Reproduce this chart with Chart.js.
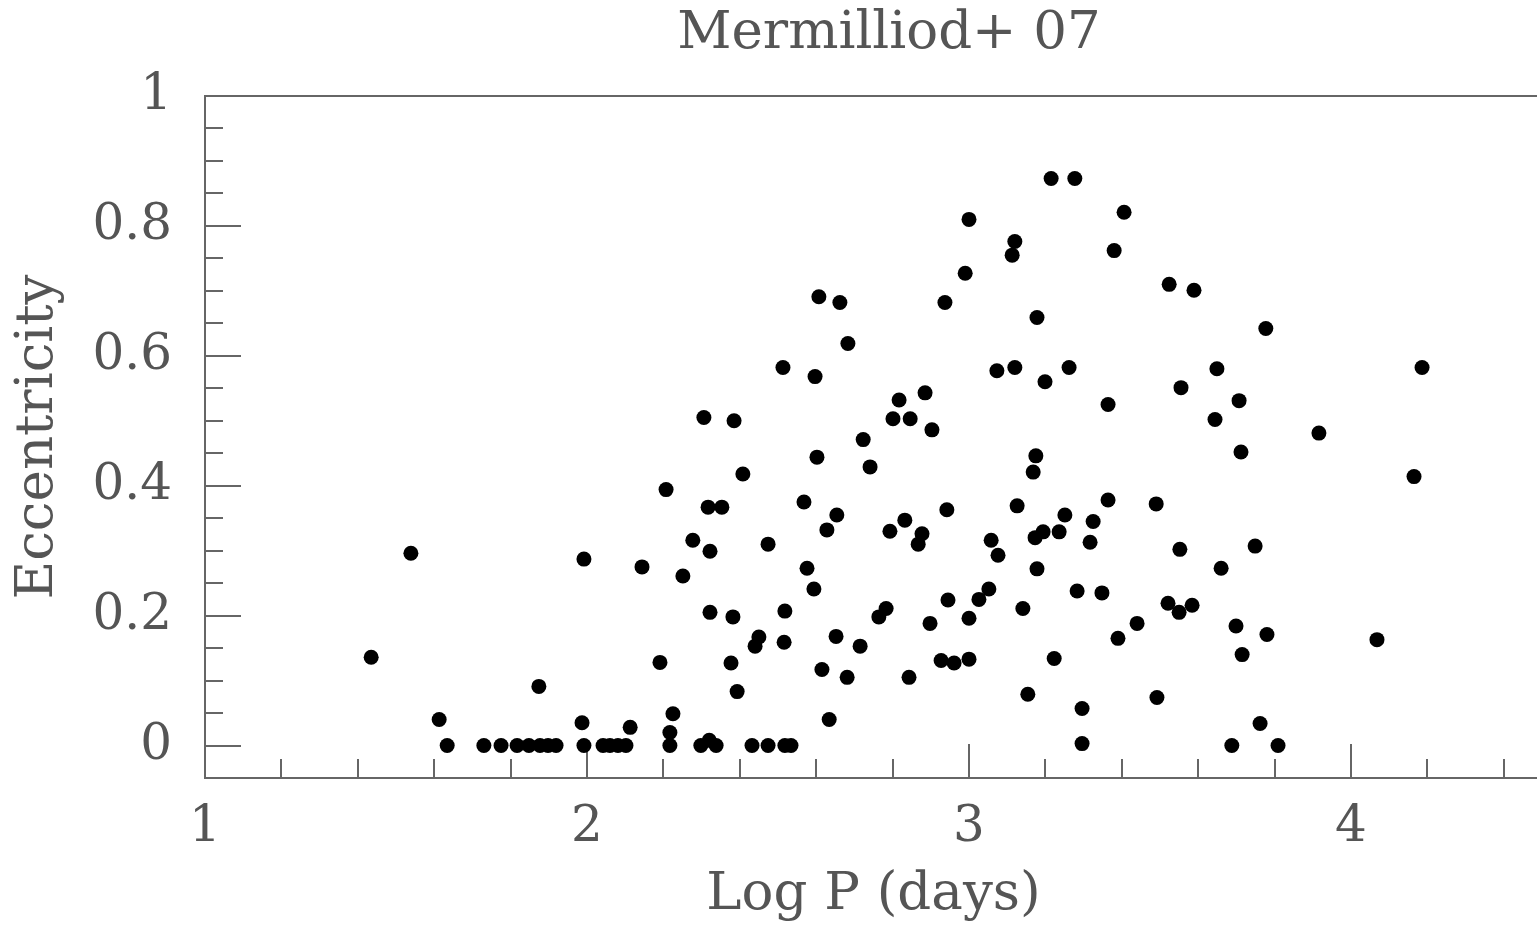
<!DOCTYPE html>
<html>
<head>
<meta charset="utf-8">
<title>Mermilliod+ 07</title>
<script src="https://cdn.jsdelivr.net/npm/chart.js@4/dist/chart.umd.min.js"></script>
<style>
  html, body { margin: 0; padding: 0; background: #fff; overflow: hidden; }
  canvas { display: block; }
</style>
</head>
<body>
<canvas id="chart" width="1560" height="926"></canvas>
<script>
// Log P (days) vs eccentricity
const LOG_P = [
  1.435, 1.539, 1.613, 1.634, 1.730, 1.775, 1.817, 1.848, 1.877, 1.898,
  1.919, 1.874, 1.992, 1.987, 1.992, 2.042, 2.060, 2.081, 2.102, 2.113,
  2.144, 2.191, 2.207, 2.217, 2.217, 2.225, 2.251, 2.277, 2.306, 2.317,
  2.322, 2.322, 2.298, 2.320, 2.338, 2.353, 2.377, 2.382, 2.385, 2.393,
  2.408, 2.432, 2.440, 2.450, 2.474, 2.474, 2.513, 2.516, 2.518, 2.518,
  2.534, 2.568, 2.576, 2.594, 2.597, 2.602, 2.607, 2.615, 2.628, 2.634,
  2.652, 2.654, 2.662, 2.681, 2.683, 2.715, 2.723, 2.741, 2.764, 2.783,
  2.793, 2.801, 2.817, 2.832, 2.843, 2.846, 2.867, 2.877, 2.885, 2.898,
  2.903, 2.927, 2.937, 2.942, 2.945, 2.961, 2.990, 3.000, 3.000, 3.000,
  3.026, 3.052, 3.058, 3.073, 3.076, 3.113, 3.120, 3.120, 3.126, 3.141,
  3.154, 3.168, 3.173, 3.175, 3.178, 3.178, 3.194, 3.199, 3.215, 3.223,
  3.236, 3.251, 3.262, 3.277, 3.283, 3.296, 3.296, 3.317, 3.325, 3.348,
  3.364, 3.364, 3.380, 3.390, 3.406, 3.440, 3.490, 3.492, 3.521, 3.524,
  3.550, 3.552, 3.555, 3.584, 3.589, 3.644, 3.649, 3.660, 3.688, 3.699,
  3.707, 3.712, 3.715, 3.749, 3.762, 3.777, 3.780, 3.809, 3.916, 4.068,
  4.165, 4.186
];
const ECC = [
  0.136, 0.296, 0.040, 0.000, 0.000, 0.000, 0.000, 0.000, 0.000, 0.000,
  0.000, 0.091, 0.287, 0.035, 0.000, 0.000, 0.000, 0.000, 0.000, 0.028,
  0.275, 0.128, 0.394, 0.020, 0.000, 0.049, 0.261, 0.316, 0.505, 0.367,
  0.299, 0.205, 0.000, 0.008, 0.000, 0.367, 0.127, 0.198, 0.500, 0.083,
  0.418, 0.000, 0.153, 0.167, 0.000, 0.310, 0.582, 0.159, 0.207, 0.000,
  0.000, 0.375, 0.273, 0.241, 0.568, 0.444, 0.691, 0.117, 0.332, 0.040,
  0.168, 0.355, 0.682, 0.105, 0.619, 0.153, 0.471, 0.429, 0.198, 0.211,
  0.330, 0.503, 0.532, 0.347, 0.105, 0.503, 0.310, 0.326, 0.543, 0.188,
  0.486, 0.131, 0.682, 0.363, 0.224, 0.127, 0.727, 0.810, 0.196, 0.133,
  0.225, 0.241, 0.316, 0.577, 0.293, 0.755, 0.776, 0.582, 0.369, 0.211,
  0.079, 0.421, 0.320, 0.446, 0.659, 0.272, 0.329, 0.560, 0.873, 0.134,
  0.329, 0.355, 0.582, 0.873, 0.238, 0.057, 0.003, 0.313, 0.345, 0.235,
  0.525, 0.378, 0.762, 0.165, 0.821, 0.188, 0.372, 0.074, 0.219, 0.710,
  0.205, 0.302, 0.551, 0.216, 0.701, 0.502, 0.580, 0.273, 0.000, 0.184,
  0.531, 0.452, 0.140, 0.307, 0.034, 0.642, 0.171, 0.000, 0.481, 0.163,
  0.414, 0.582
];

const X_TICKS = [1, 2, 3, 4];
const Y_TICKS = [0, 0.2, 0.4, 0.6, 0.8, 1];
const TITLE = "Mermilliod+ 07";
const X_LABEL = "Log P (days)";
const Y_LABEL = "Eccentricity";

const FONT = '"DejaVu Serif", "Liberation Serif", serif';
const INK = "#555";
const LINE = "#666";

// frame + inward ticks, placed with the chart's own scales
const framePlugin = {
  id: "frame",
  beforeDatasetsDraw(chart) {
    const { ctx, chartArea: a, scales } = chart;
    ctx.save();
    ctx.strokeStyle = LINE;
    ctx.lineWidth = 2;
    ctx.strokeRect(a.left, a.top, a.right - a.left, a.bottom - a.top);

    ctx.beginPath();
    for (let i = 5; i <= 22; i++) {
      const px = Math.round(scales.x.getPixelForValue(i / 5));
      const len = i % 5 === 0 ? 34 : 19;
      ctx.moveTo(px, a.bottom);
      ctx.lineTo(px, a.bottom - len);
    }
    for (let i = 0; i < 20; i++) {
      const py = Math.round(scales.y.getPixelForValue(i / 20));
      const len = i % 4 === 0 ? 36 : 18;
      ctx.moveTo(a.left, py);
      ctx.lineTo(a.left + len, py);
    }
    ctx.stroke();
    ctx.restore();
  },
  afterDraw(chart) {
    const { ctx } = chart;
    ctx.save();
    ctx.fillStyle = INK;
    ctx.font = "53px " + FONT;
    ctx.textAlign = "center";
    ctx.textBaseline = "middle";
    ctx.fillText(TITLE, 889, 34);
    ctx.restore();
  },
};

new Chart(document.getElementById("chart"), {
  type: "scatter",
  data: {
    datasets: [
      {
        data: LOG_P.map((x, i) => ({ x, y: ECC[i] })),
        backgroundColor: "#000",
        borderWidth: 0,
        pointRadius: 7.5,
        pointHoverRadius: 7.5,
      },
    ],
  },
  options: {
    responsive: false,
    animation: false,
    layout: { padding: { top: 96, right: 18, bottom: 0, left: 0 } },
    plugins: {
      legend: { display: false },
      tooltip: { enabled: false },
      title: { display: false },
    },
    scales: {
      x: {
        type: "linear",
        min: 1,
        max: 4.5,
        afterBuildTicks: (s) => { s.ticks = X_TICKS.map((v) => ({ value: v })); },
        afterFit: (s) => { s.height = 148; },
        grid: { display: false, drawTicks: false },
        border: { display: false },
        ticks: {
          color: INK,
          padding: 25,
          maxRotation: 0,
          autoSkip: false,
          font: { family: FONT, size: 50, lineHeight: 1 },
          callback: (v) => String(v),
        },
        title: {
          display: true,
          text: X_LABEL,
          color: INK,
          padding: { top: 0, bottom: 4 },
          font: { family: FONT, size: 53, lineHeight: 1 },
        },
      },
      y: {
        type: "linear",
        min: -0.05,
        max: 1,
        afterBuildTicks: (s) => { s.ticks = Y_TICKS.map((v) => ({ value: v })); },
        afterFit: (s) => { s.width = 205; },
        grid: { display: false, drawTicks: false },
        border: { display: false },
        ticks: {
          color: INK,
          padding: 33,
          autoSkip: false,
          font: { family: FONT, size: 50, lineHeight: 1 },
          callback: (v) => String(v),
        },
        title: {
          display: true,
          text: Y_LABEL,
          color: INK,
          padding: { top: 12, bottom: 0 },
          font: { family: FONT, size: 53, lineHeight: 1 },
        },
      },
    },
  },
  plugins: [framePlugin],
});
</script>
</body>
</html>
